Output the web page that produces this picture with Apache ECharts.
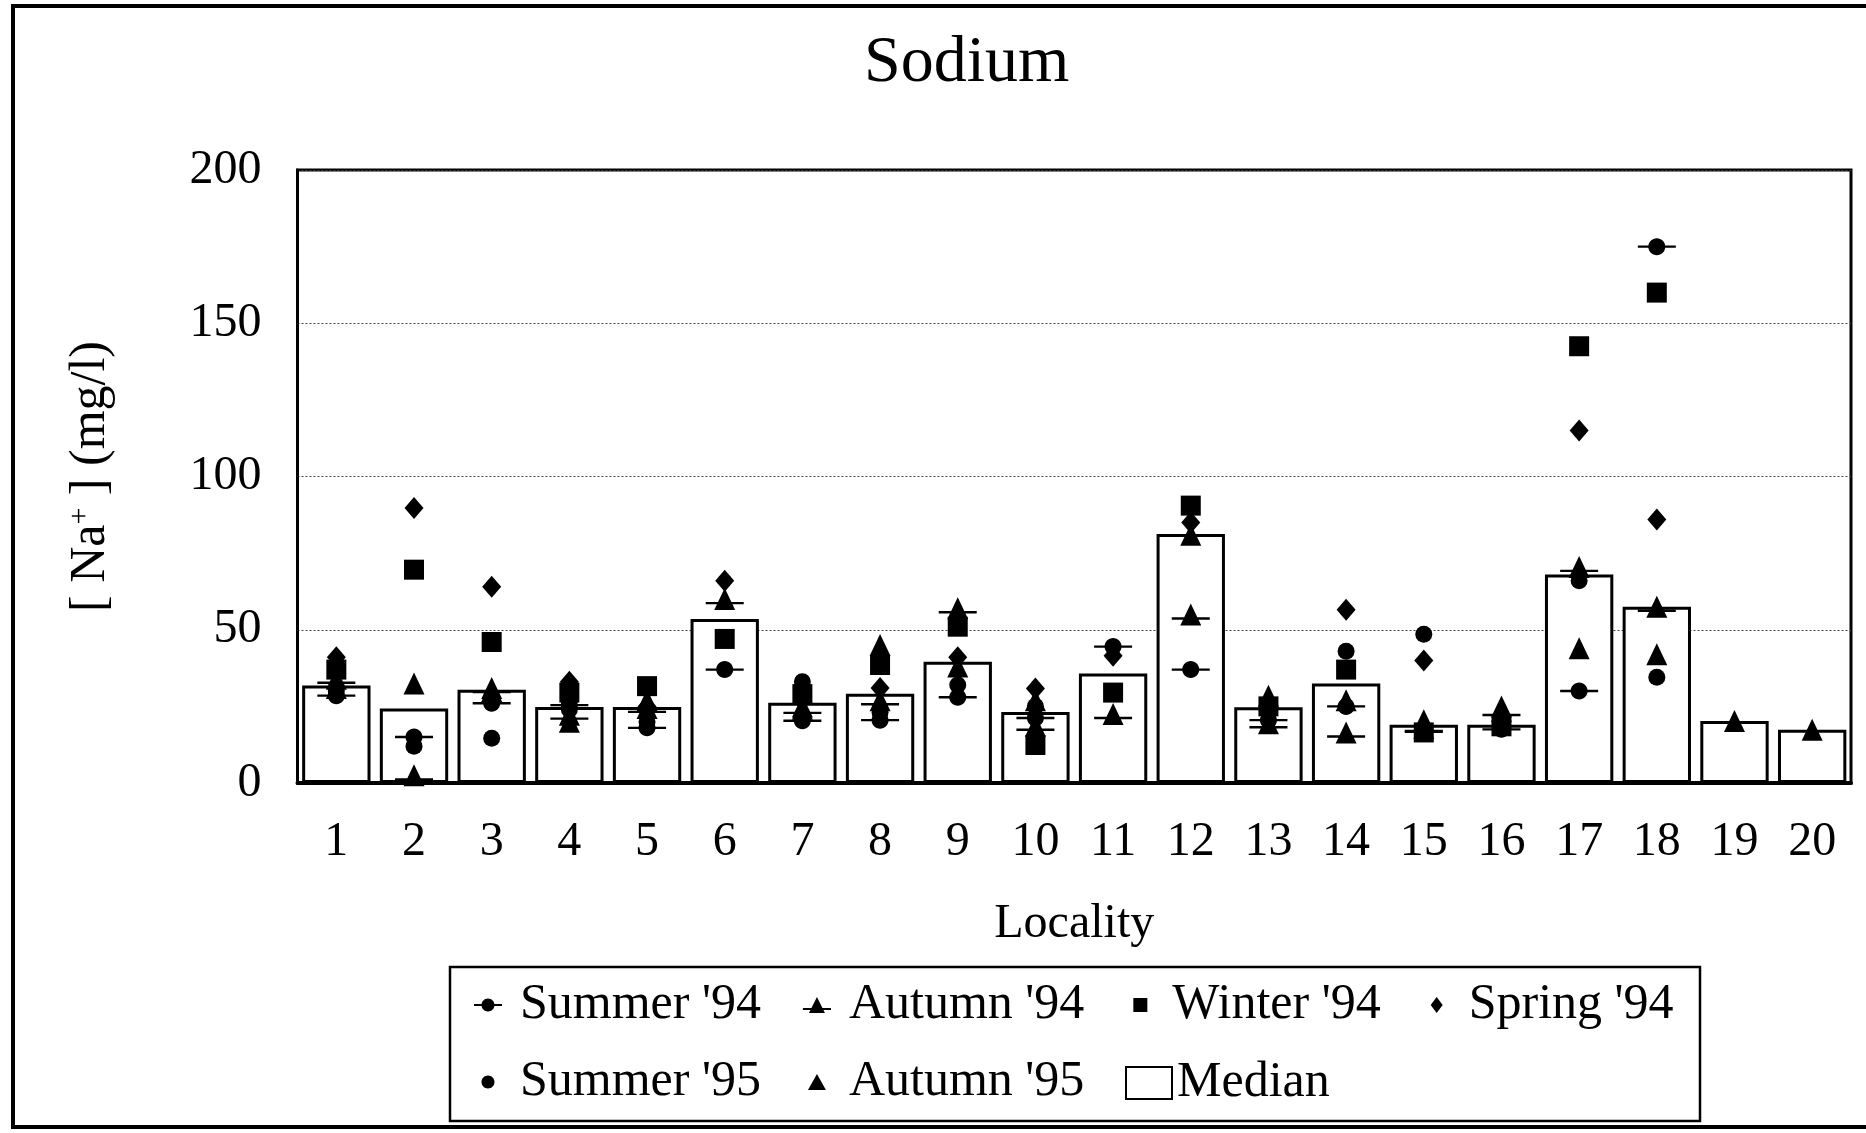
<!DOCTYPE html>
<html><head><meta charset="utf-8">
<script src="https://cdn.jsdelivr.net/npm/echarts@6/dist/echarts.min.js"></script>
<style>html,body{margin:0;padding:0;background:#fff}#c{width:1866px;height:1133px}</style>
</head><body><div id="c"></div>
<script>
// ---- data (mg/l) ----
const localities = ['1','2','3','4','5','6','7','8','9','10','11','12','13','14','15','16','17','18','19','20'];
const summer94 = [28.5, 15, 26, 25.4, 18, 37, 20.3, 20.5, 28, 21.2, 44.5, 37, 20.5, 25, 17, 17.5, 30, 175, '-', '-'];
const autumn94 = [34, 2.5, 31, 22.3, 24.5, 60, 24.2, 27, 57, 18.7, 22.5, 55, 19.5, 16.5, 18, 23.5, 70.5, 57.5, '-', '-'];
const winter94 = [37, 69.6, 46, 29.5, 31.6, 47, 29, 38.5, 51, 12.4, 29.5, 90.5, 25, 37, 16.5, 18.5, 142.5, 160, '-', '-'];
const spring94 = [41, 89.7, 64, 33, 25, 66, 27, 31, 41, 30.8, 41.5, 85, 26, 56.5, 40, 19, 115, 86, '-', '-'];
const summer95 = [30, 12, 14.6, 24, 20, '-', 33, 23, 32, 25, '-', '-', 24.5, 43, 48.5, 19, 66, 34.5, '-', '-'];
const autumn95 = [31, 32.5, 30, 20, 27, '-', 25, 45, 38, 27, '-', 81, 28.5, 27, 20.5, 25, 44, 42, 20.2, 17.4];
const median   = [31.8, 24.3, 30.4, 24.8, 24.8, 53.5, 26.2, 29.1, 39.6, 23.2, 35.7, 81.2, 24.7, 32.5, 19, 19, 68, 57.5, 20.2, 17.4];

const FONT = "'Liberation Serif','Times New Roman',serif";
// chart marker shapes
const SYM_CIRCLE_DASH = 'path://M0,7.3H38V9.7H0Z M10.5,8.5C10.5,3.806 14.306,0 19,0C23.694,0 27.5,3.806 27.5,8.5C27.5,13.194 23.694,17 19,17C14.306,17 10.5,13.194 10.5,8.5Z';
const SYM_TRI_DASH = 'path://M19,0L29.5,22L8.5,22Z M0,13.8H38V16.2H0Z';
// legend icon shapes (44 x 20 box, shape placed left of centre)
const BOX = 'M0,0L44,20Z ';
const ICON_SUMMER94 = 'path://' + BOX + 'M3,9H31V11H3Z M10.5,10C10.5,6.41 13.41,3.5 17,3.5C20.59,3.5 23.5,6.41 23.5,10C23.5,13.59 20.59,16.5 17,16.5C13.41,16.5 10.5,13.59 10.5,10Z';
const ICON_AUTUMN94 = 'path://' + BOX + 'M17,2L25,18L9,18Z M3,13H31V15H3Z';
const ICON_WINTER94 = 'path://' + BOX + 'M10,3H24V17H10Z';
const ICON_SPRING94 = 'path://' + BOX + 'M17,2L23,10L17,18L11,10Z';
const ICON_SUMMER95 = 'path://' + BOX + 'M10.5,10C10.5,6.41 13.41,3.5 17,3.5C20.59,3.5 23.5,6.41 23.5,10C23.5,13.59 20.59,16.5 17,16.5C13.41,16.5 10.5,13.59 10.5,10Z';
const ICON_AUTUMN95 = 'path://' + BOX + 'M17,2L26,18L8,18Z';

function scatter(name, data, symbol, size) {
  return {
    name: name, type: 'scatter', data: data, symbol: symbol, symbolSize: size,
    symbolKeepAspect: false, itemStyle: { color: '#000', opacity: 1 }, z: 3
  };
}

const legendText = { fontFamily: FONT, fontSize: 50, color: '#000' };
const legendCommon = {
  left: 471, padding: 0, orient: 'horizontal', itemGap: 39,
  itemWidth: 44, itemHeight: 20, symbolKeepAspect: true, textStyle: legendText
};

const chart = echarts.init(document.getElementById('c'), null, { renderer: 'canvas' });
chart.setOption({
  animation: false,
  backgroundColor: '#fff',
  title: {
    text: 'Sodium', left: 859, top: 26,
    textStyle: { fontFamily: FONT, fontSize: 66, fontWeight: 'normal', color: '#000' }
  },
  grid: {
    left: 297.5, right: 15, top: 170, bottom: 350,
    show: true, borderColor: '#000', borderWidth: 3, backgroundColor: 'transparent'
  },
  xAxis: {
    type: 'category', data: localities,
    axisLine: { lineStyle: { color: '#000', width: 4 } },
    axisTick: { show: false },
    axisLabel: { margin: 35, fontFamily: FONT, fontSize: 48, color: '#000' },
    name: 'Locality', nameLocation: 'middle', nameGap: 117,
    nameTextStyle: { fontFamily: FONT, fontSize: 48, color: '#000' }
  },
  yAxis: {
    type: 'value', min: 0, max: 200, interval: 50,
    axisLine: { show: true, lineStyle: { color: '#000', width: 3 } },
    axisTick: { show: false },
    splitLine: { show: true, lineStyle: { color: '#444', width: 1, type: [2, 2] } },
    axisLabel: { margin: 36, fontFamily: FONT, fontSize: 48, color: '#000' },
    name: '[ Na{sup|+} ] (mg/l)', nameLocation: 'middle', nameGap: 182,
    nameTextStyle: {
      fontFamily: FONT, fontSize: 50, color: '#000',
      rich: { sup: { fontFamily: FONT, fontSize: 30, color: '#000', verticalAlign: 'top', padding: [0, 0, 16, 0] } }
    }
  },
  legend: [
    Object.assign({
      data: [
        { name: "Summer '94", icon: ICON_SUMMER94 },
        { name: "Autumn '94", icon: ICON_AUTUMN94 },
        { name: "Winter '94", icon: ICON_WINTER94 },
        { name: "Spring '94", icon: ICON_SPRING94 }
      ], top: 980 }, legendCommon),
    Object.assign({
      data: [
        { name: "Summer '95", icon: ICON_SUMMER95 },
        { name: "Autumn '95", icon: ICON_AUTUMN95 }
      ], top: 1057 }, legendCommon),
    {
      data: ['Median'], left: 1125, top: 1058, padding: 0,
      icon: 'rect', itemWidth: 46, itemHeight: 32, textStyle: legendText
    }
  ],
  graphic: [{
    type: 'rect', silent: true, z: -10,
    shape: { x: 13, y: 6, width: 1900, height: 1121 },
    style: { fill: 'none', stroke: '#000', lineWidth: 4 }
  }, {
    type: 'rect', silent: true, z: -10,
    shape: { x: 450, y: 967, width: 1250, height: 154 },
    style: { fill: 'none', stroke: '#000', lineWidth: 2.5 }
  }],
  series: [
    {
      name: 'Median', type: 'bar', data: median, barCategoryGap: '12%', z: 1,
      itemStyle: { color: '#fff', borderColor: '#000', borderWidth: 3 }
    },
    scatter("Summer '94", summer94, SYM_CIRCLE_DASH, [38, 17]),
    scatter("Autumn '94", autumn94, SYM_TRI_DASH, [38, 22]),
    scatter("Winter '94", winter94, 'rect', 20),
    scatter("Spring '94", spring94, 'diamond', [19, 22]),
    scatter("Summer '95", summer95, 'circle', 17),
    scatter("Autumn '95", autumn95, 'triangle', [21, 22])
  ]
});
</script></body></html>
